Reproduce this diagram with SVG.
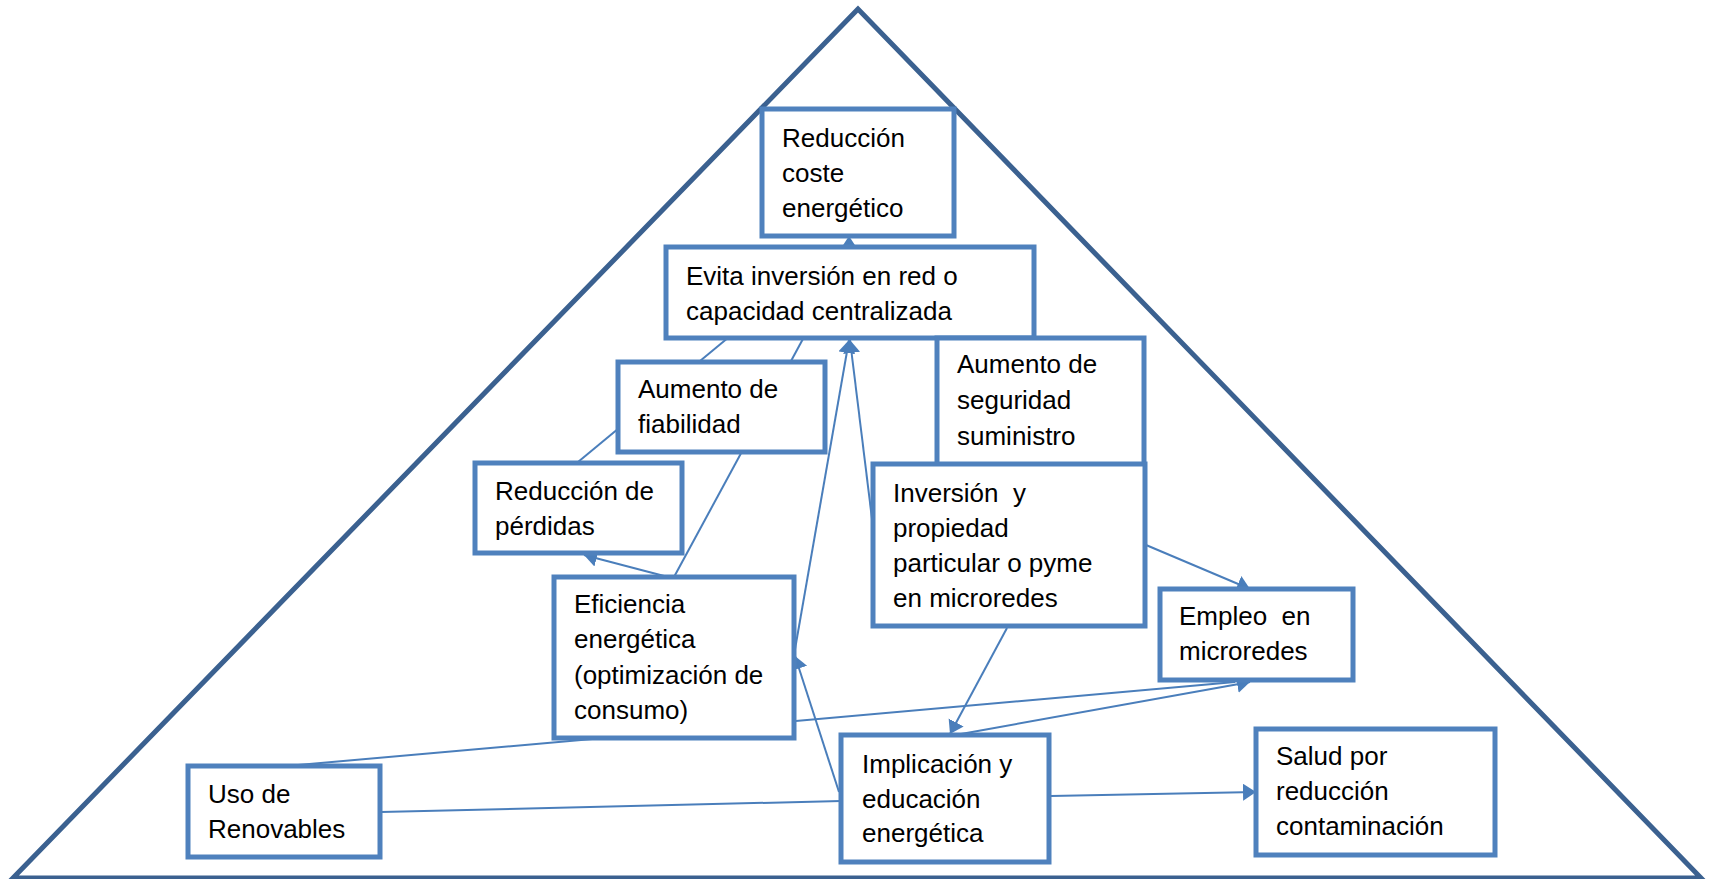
<svg xmlns="http://www.w3.org/2000/svg" width="1711" height="879" viewBox="0 0 1711 879">
  <style>
    .box { fill: #ffffff; stroke: #4f81bd; stroke-width: 5; }
    .conn { stroke: #4a7ebb; stroke-width: 2; fill: none; }
    .lbl { font-family: "Liberation Sans", Arial, sans-serif; font-size: 26px; fill: #000000; white-space: pre; }
    .tri { fill: none; stroke: #3b6190; stroke-width: 5; stroke-linejoin: miter; }
  </style>
  <defs>
    <marker id="arr" markerUnits="userSpaceOnUse" markerWidth="15" markerHeight="18" refX="13" refY="8.5" orient="auto">
      <path d="M0,0 L13,8.5 L0,17 z" fill="#4a7ebb"/>
    </marker>
  </defs>
  <rect x="0" y="0" width="1711" height="879" fill="#ffffff"/>
  <g id="pyramid">
    <polygon class="tri" points="858,9 13,878 1701,878"/>
  </g>
  <g id="connectors">
    <line class="conn" x1="849" y1="254" x2="849" y2="236" marker-end="url(#arr)"/>
    <line class="conn" x1="578" y1="462" x2="729" y2="337"/>
    <line class="conn" x1="674" y1="577" x2="804" y2="337"/>
    <line class="conn" x1="668" y1="577" x2="584" y2="555" marker-end="url(#arr)"/>
    <line class="conn" x1="794" y1="655" x2="849" y2="340" marker-end="url(#arr)"/>
    <line class="conn" x1="873" y1="527" x2="850" y2="340" marker-end="url(#arr)"/>
    <line class="conn" x1="1146" y1="545" x2="1250" y2="589" marker-end="url(#arr)"/>
    <line class="conn" x1="1007" y1="628" x2="950" y2="734" marker-end="url(#arr)"/>
    <line class="conn" x1="961" y1="734" x2="1250" y2="682" marker-end="url(#arr)"/>
    <line class="conn" x1="298" y1="765" x2="1235" y2="682"/>
    <line class="conn" x1="839" y1="792" x2="795" y2="656" marker-end="url(#arr)"/>
    <line class="conn" x1="381" y1="812" x2="841" y2="801"/>
    <line class="conn" x1="1051" y1="796" x2="1256" y2="792" marker-end="url(#arr)"/>
  </g>
  <g id="reduccion-coste">
    <rect class="box" x="762" y="109" width="192" height="127"/>
    <text class="lbl" x="782" y="147">Reducción</text>
    <text class="lbl" x="782" y="182">coste</text>
    <text class="lbl" x="782" y="217">energético</text>
  </g>
  <g id="evita-inversion">
    <rect class="box" x="666" y="247" width="368" height="91"/>
    <text class="lbl" x="686" y="285">Evita inversión en red o</text>
    <text class="lbl" x="686" y="320">capacidad centralizada</text>
  </g>
  <g id="aumento-seguridad">
    <rect class="box" x="937" y="338" width="207" height="127"/>
    <text class="lbl" x="957" y="373">Aumento de</text>
    <text class="lbl" x="957" y="409">seguridad</text>
    <text class="lbl" x="957" y="445">suministro</text>
  </g>
  <g id="aumento-fiabilidad">
    <rect class="box" x="618" y="362" width="207" height="90"/>
    <text class="lbl" x="638" y="398">Aumento de</text>
    <text class="lbl" x="638" y="433">fiabilidad</text>
  </g>
  <g id="reduccion-perdidas">
    <rect class="box" x="475" y="463" width="207" height="90"/>
    <text class="lbl" x="495" y="500">Reducción de</text>
    <text class="lbl" x="495" y="535">pérdidas</text>
  </g>
  <g id="inversion-propiedad">
    <rect class="box" x="873" y="464" width="272" height="162"/>
    <text class="lbl" x="893" y="502" xml:space="preserve">Inversión  y</text>
    <text class="lbl" x="893" y="537">propiedad</text>
    <text class="lbl" x="893" y="572">particular o pyme</text>
    <text class="lbl" x="893" y="607">en microredes</text>
  </g>
  <g id="empleo">
    <rect class="box" x="1160" y="589" width="193" height="91"/>
    <text class="lbl" x="1179" y="625" xml:space="preserve">Empleo  en</text>
    <text class="lbl" x="1179" y="660">microredes</text>
  </g>
  <g id="eficiencia">
    <rect class="box" x="554" y="577" width="240" height="161"/>
    <text class="lbl" x="574" y="613">Eficiencia</text>
    <text class="lbl" x="574" y="648">energética</text>
    <text class="lbl" x="574" y="684">(optimización de</text>
    <text class="lbl" x="574" y="719">consumo)</text>
  </g>
  <g id="uso-renovables">
    <rect class="box" x="188" y="766" width="192" height="91"/>
    <text class="lbl" x="208" y="803">Uso de</text>
    <text class="lbl" x="208" y="838">Renovables</text>
  </g>
  <g id="implicacion">
    <rect class="box" x="841" y="735" width="208" height="127"/>
    <text class="lbl" x="862" y="773">Implicación y</text>
    <text class="lbl" x="862" y="808">educación</text>
    <text class="lbl" x="862" y="842">energética</text>
  </g>
  <g id="salud">
    <rect class="box" x="1256" y="729" width="239" height="126"/>
    <text class="lbl" x="1276" y="765">Salud por</text>
    <text class="lbl" x="1276" y="800">reducción</text>
    <text class="lbl" x="1276" y="835">contaminación</text>
  </g>
</svg>
